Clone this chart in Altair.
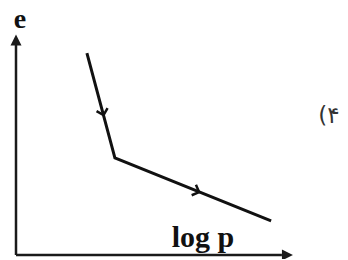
import altair as alt
import pandas as pd

# compression curve (log p, e)
curve_logp = [2.56, 3.57, 9.21]
curve_e = [9.18, 4.41, 1.55]

# direction arrows on the curve (tip position, heading in degrees)
dir_logp = [3.16, 6.61]
dir_e = [6.36, 2.86]
dir_angle = [75, 22]

# axes (origin to arrow base) and arrow heads
axis_x_logp = [0, 9.6]
axis_x_e = [0, 0]
axis_y_logp = [0, 0]
axis_y_e = [0, 9.55]

head_logp = [0, 9.8]
head_e = [9.77, 0]
head_shape = ["M0,-1 L1,1 L-1,1 Z", "M1,0 L-1,-1 L-1,1 Z"]

labels = ["e", "log p"]
label_logp = [0.14, 6.75]
label_e = [10.68, 0.77]
label_size = [28, 30]

tag = ["(۴"]
tag_logp = [11.3]
tag_e = [6.3]

xs = alt.Scale(domain=[0, 10], range=[8, 285], nice=False, zero=False)
ys = alt.Scale(domain=[0, 10], range=[247, 27], nice=False, zero=False)

def X(f):
    return alt.X(f, type="quantitative", scale=xs, axis=None)

def Y(f):
    return alt.Y(f, type="quantitative", scale=ys, axis=None)

axes_df = pd.DataFrame({
    "x": axis_x_logp + axis_y_logp,
    "y": axis_x_e + axis_y_e,
    "g": ["x", "x", "y", "y"],
})
axes = alt.Chart(axes_df).mark_line(color="#1a1a1a", strokeWidth=2.5).encode(
    x=X("x"), y=Y("y"), detail="g:N"
)

heads = alt.layer(*[
    alt.Chart(pd.DataFrame({"x": [head_logp[i]], "y": [head_e[i]]})).mark_point(
        shape=head_shape[i], filled=True, size=121, color="#1a1a1a", opacity=1
    ).encode(x=X("x"), y=Y("y"))
    for i in range(2)
])

curve_df = pd.DataFrame({"x": curve_logp, "y": curve_e, "o": [0, 1, 2]})
curve = alt.Chart(curve_df).mark_line(color="#111", strokeWidth=3).encode(
    x=X("x"), y=Y("y"), order="o:Q"
)

arrows = alt.layer(*[
    alt.Chart(pd.DataFrame({"x": [dir_logp[i]], "y": [dir_e[i]]})).mark_point(
        shape="M-1,-1 L0,0 L-1,1", filled=False, size=130, color="#111",
        strokeWidth=2.5, angle=dir_angle[i], opacity=1
    ).encode(x=X("x"), y=Y("y"))
    for i in range(2)
])

lab = alt.layer(*[
    alt.Chart(pd.DataFrame({"x": [label_logp[i]], "y": [label_e[i]], "t": [labels[i]]})).mark_text(
        font="Liberation Serif", fontWeight="bold", fontSize=label_size[i], color="#111",
        baseline="middle", align="center"
    ).encode(x=X("x"), y=Y("y"), text="t:N")
    for i in range(2)
])

tag_df = pd.DataFrame({"x": tag_logp, "y": tag_e, "t": tag})
tagm = alt.Chart(tag_df).mark_text(
    font="DejaVu Sans", fontSize=23, color="#333", baseline="middle", align="center"
).encode(x=X("x"), y=Y("y"), text="t:N")

chart = alt.layer(axes, heads, curve, arrows, lab, tagm).properties(
    width=332, height=251, autosize=alt.AutoSizeParams(type="none"), padding=0
).configure_view(stroke=None)

chart.save("out.html", embed_options={"renderer": "svg", "actions": False})
